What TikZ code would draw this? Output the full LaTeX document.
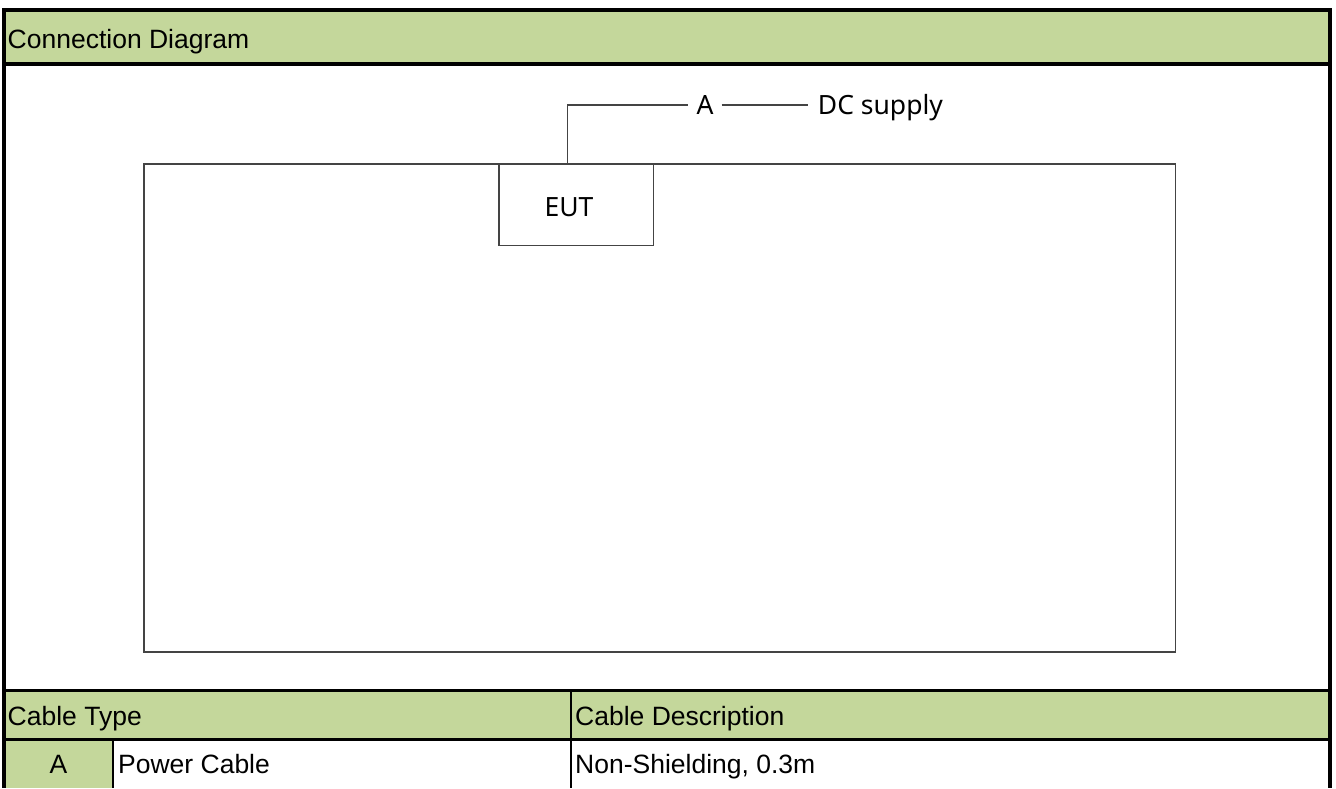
\documentclass[tikz,border=0pt]{standalone}
\usepackage{fontspec}
\setmainfont{Liberation Sans}
\newfontfamily\diagfont{Noto Sans}
\definecolor{cellgreen}{HTML}{C4D79B}
\definecolor{wiregray}{HTML}{444444}
\begin{document}
\begin{tikzpicture}[x=1pt,y=-1pt,
  frameline/.style={line width=4pt,black},
  gridline/.style={line width=3pt,black},
  colline/.style={line width=2.5pt,black},
  wire/.style={line width=1.5pt,wiregray},
  celltext/.style={font=\fontsize{26.5}{30}\selectfont,inner sep=0pt,anchor=base west},
  difftext/.style={font=\diagfont\fontsize{26.5}{30}\selectfont,text=black}]
\useasboundingbox (0,0) rectangle (1336,788);

% green header bands and the type cell
\fill[cellgreen] (4,12) rectangle (1330,64);
\fill[cellgreen] (4,690) rectangle (1330,739);
\fill[cellgreen] (4,739) rectangle (113,788);

% outer frame and table rules
\draw[frameline] (4,8) -- (4,788);
\draw[frameline] (1330,8) -- (1330,788);
\draw[frameline] (2,10) -- (1332,10);
\draw[frameline] (2,64) -- (1332,64);
\draw[gridline] (2,690.5) -- (1332,690.5);
\draw[gridline] (2,739) -- (1332,739);
\draw[colline] (571,690) -- (571,788);
\draw[colline] (113,739) -- (113,788);

% table texts
\node[celltext] (title) at (7.5,48.5) {Connection Diagram};
\node[celltext] (typehead) at (7.5,725) {Cable Type};
\node[celltext] (deschead) at (575,725) {Cable Description};
\node[celltext,anchor=base] (typeA) at (58.5,773) {A};
\node[celltext] (typename) at (118,773) {Power Cable};
\node[celltext] (typedesc) at (575,773) {Non-Shielding, 0.3m};

% test table outline and equipment under test
\draw[wire] (144,164) rectangle (1175.5,652);
\node[wire,draw,fill=white,minimum width=154.5pt,minimum height=81.5pt,inner sep=0pt]
  (eut) at (576.25,204.75) {};
\node[difftext,inner sep=0pt,anchor=base] (euttext) at (569,216.5) {EUT};

% cable A to the DC supply
\node[difftext,inner xsep=8pt,inner ysep=0pt,anchor=base] (cableA) at (705,114.3) {A};
\node[difftext,inner xsep=10pt,inner ysep=0pt,anchor=base west] (dc) at (807.7,114.3) {DC supply};
\coordinate (tap) at (567.7,164);
\draw[wire] (tap) |- (cableA.west);
\draw[wire] (cableA.east) -- (cableA.east -| dc.west);
\end{tikzpicture}
\end{document}
